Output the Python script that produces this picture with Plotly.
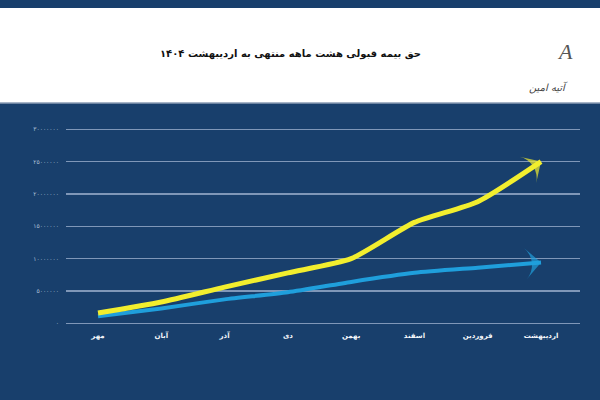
import plotly.graph_objects as go

months = ["مهر", "آبان", "آذر", "دی", "بهمن", "اسفند", "فروردین", "اردیبهشت"]
yellow_vals = [1600000, 3300000, 5600000, 7800000, 10000000, 15600000, 18800000, 25000000]
blue_vals = [1100000, 2300000, 3700000, 4800000, 6400000, 7800000, 8600000, 9400000]
tick_vals = [0, 5000000, 10000000, 15000000, 20000000, 25000000, 30000000]
tick_text = ["۰", "۵۰۰۰۰۰۰", "۱۰۰۰۰۰۰۰", "۱۵۰۰۰۰۰۰", "۲۰۰۰۰۰۰۰", "۲۵۰۰۰۰۰۰", "۳۰۰۰۰۰۰۰"]
title_text = "حق بیمه قبولی هشت ماهه منتهی به اردیبهشت ۱۴۰۴"

BG = "#183f6c"
YEL = "#f2ee2e"
BLU = "#1f9fdc"

fig = go.Figure()
n = len(months)
for vals, col, w in [(blue_vals, BLU, 4), (yellow_vals, YEL, 5)]:
    fig.add_trace(go.Scatter(
        x=months, y=vals, mode="lines+markers",
        line=dict(color=col, width=w, shape="spline", smoothing=0.6),
        marker=dict(symbol="arrow-wide", angleref="previous",
                    size=[0] * (n - 1) + [22], color=col,
                    line=dict(width=0)),
        hoverinfo="skip", showlegend=False,
    ))

fig.update_layout(
    width=600, height=400,
    margin=dict(l=66, r=20, t=110, b=70),
    paper_bgcolor=BG, plot_bgcolor=BG,
    font=dict(family="DejaVu Sans", color="#d8e2ef"),
    xaxis=dict(type="category", range=[-0.506, 7.616], showgrid=False,
               zeroline=False, showline=False, ticks="",
               tickfont=dict(size=7, color="#f4f7fb", weight="bold"), fixedrange=True),
    yaxis=dict(range=[-1036000, 32980000], tickvals=tick_vals, ticktext=tick_text,
               showgrid=True, gridcolor="#7f97b8", gridwidth=1.5,
               zeroline=False, ticks="", tickfont=dict(size=6, color="#b0c2da"),
               ticklabelstandoff=6, fixedrange=True),
    shapes=[
        dict(type="rect", xref="paper", yref="paper", x0=-0.13, x1=1.04,
             y0=1.0318, y1=1.4636, fillcolor="white", line=dict(width=0), layer="below"),
        dict(type="line", xref="paper", yref="paper", x0=-0.13, x1=1.04,
             y0=1.0318, y1=1.0318, line=dict(color="#8a9db5", width=1.5)),
    ],
    annotations=[
        dict(text="<b>" + title_text + "</b>", xref="paper", yref="paper",
             x=0.436, y=1.291, showarrow=False,
             font=dict(size=10, color="#111111", family="DejaVu Sans")),
        dict(text="<i>A</i>", xref="paper", yref="paper", x=0.99, y=1.33,
             showarrow=False, font=dict(size=22, color="#555555", family="Liberation Serif")),
        dict(text="<i>آتیه امین</i>", xref="paper", yref="paper", x=0.98, y=1.14,
             showarrow=False, font=dict(size=10, color="#444444", family="DejaVu Sans")),
    ],
)

fig.write_html("out.html", post_script="document.body.style.margin='0';",
               config={"displayModeBar": False, "staticPlot": True})
